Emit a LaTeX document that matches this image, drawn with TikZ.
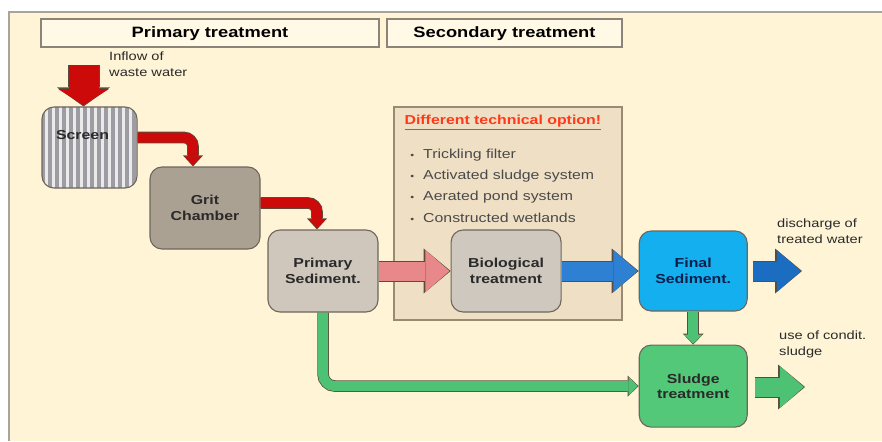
\documentclass[tikz,border=0pt]{standalone}
\usepackage{fontspec}
\setmainfont{Liberation Sans}[FakeStretch=1.22]
\usetikzlibrary{arrows.meta,positioning}

\definecolor{panel}{HTML}{FFF5D6}
\definecolor{panelline}{HTML}{A8A49C}
\definecolor{headfill}{HTML}{FFF9E6}
\definecolor{headedge}{HTML}{8C8478}
\definecolor{boxedge}{HTML}{6E665C}
\definecolor{textgray}{HTML}{2A2A2A}
\definecolor{gritfill}{HTML}{ABA192}
\definecolor{sedfill}{HTML}{CFC7BC}
\definecolor{biofill}{HTML}{CEC8BF}
\definecolor{finalfill}{HTML}{14AFEF}
\definecolor{finaltext}{HTML}{0B1F4A}
\definecolor{sludgefill}{HTML}{52C878}
\definecolor{optfill}{HTML}{EFDFC4}
\definecolor{optedge}{HTML}{9A8A72}
\definecolor{optred}{HTML}{FF3A1A}
\definecolor{pipered}{HTML}{CC0A0A}
\definecolor{pipepink}{HTML}{E8888B}
\definecolor{pipeblue}{HTML}{2D80D2}
\definecolor{pipedarkblue}{HTML}{1B6DC2}
\definecolor{pipegreen}{HTML}{4DC274}
\definecolor{pipeedge}{HTML}{5A4C3E}
\definecolor{stripedark}{HTML}{9C9CA2}
\definecolor{stripelight}{HTML}{EAEAEA}

\newcommand{\bannerfont}{\fontsize{15}{18}\selectfont\bfseries}
\newcommand{\blockfont}{\fontsize{13}{15.5}\selectfont\bfseries}
\newcommand{\remarkfont}{\fontsize{12}{15.5}\selectfont}
\newcommand{\optfont}{\fontsize{13}{16}\selectfont}

\begin{document}
\begin{tikzpicture}[x=1pt,y=-1pt,
  banner/.style={draw=headedge,line width=1.5pt,fill=headfill,minimum height=28pt,text depth=1pt,font=\bannerfont},
  block/.style={draw=boxedge,line width=1.1pt,rounded corners=12pt,minimum width=110pt,minimum height=82pt,
    align=center,font=\blockfont,text=textgray},
  note/.style={align=left,anchor=north west,inner sep=0pt,font=\remarkfont,text=textgray},
  redpipe/.style={draw=pipered,line width=10pt,rounded corners=9pt,shorten >=1pt,
    -{Triangle[length=9pt,width=17pt,line width=0pt]},
    preaction={draw=pipeedge,line width=11.6pt,shorten >=0pt,-{Triangle[length=11pt,width=20pt,line width=0pt]}}},
  inflowpipe/.style={draw=pipered,line width=30pt,shorten >=1.2pt,
    -{Triangle[length=16pt,width=50pt,line width=0pt]},
    preaction={draw=pipeedge,line width=32pt,shorten >=0pt,-{Triangle[length=19pt,width=53pt,line width=0pt]}}},
  bigpipe/.style={draw=#1,line width=19pt,shorten >=1.2pt,
    -{Triangle[length=24pt,width=42pt,line width=0pt]},
    preaction={draw=pipeedge,line width=21pt,shorten >=0pt,-{Triangle[length=27pt,width=45pt,line width=0pt]}}},
  smallpipe/.style={draw=#1,line width=10pt,rounded corners=12pt,shorten >=1pt,
    -{Triangle[length=9pt,width=18pt,line width=0pt]},
    preaction={draw=pipeedge,line width=11.5pt,shorten >=0pt,-{Triangle[length=11pt,width=21pt,line width=0pt]}}}
]

\useasboundingbox (0,0) rectangle (882,441);
\fill[white] (0,0) rectangle (882,441);
\fill[panel] (9,12) rectangle (882,441);
\draw[panelline,line width=1.2pt] (9,441) -- (9,12) -- (882,12);

% headings
\node[banner,minimum width=338pt] (primary)   at (210,33)   {Primary treatment};
\node[banner,minimum width=235pt] (secondary) at (504.5,33) {Secondary treatment};

% the box of options
\node[draw=optedge,fill=optfill,line width=1.2pt,minimum width=228pt,minimum height=213pt] (opt) at (508,213.5) {};
\node[anchor=west,inner sep=0pt,font=\optfont\bfseries,text=optred] (opttitle)
  at ([xshift=11pt,yshift=-16pt]opt.north west) {\underline{Different technical option!}};
\foreach \opt [count=\k] in {Trickling filter,Activated sludge system,Aerated pond system,Constructed wetlands}
  \node[anchor=west,inner sep=0pt,font=\optfont,text=textgray!85] (opt\k)
    at (423,134+21*\k) {\llap{\small\textbullet\hspace{9pt}}\opt};

% process blocks
\node[block,minimum width=95pt,minimum height=81pt,fill=stripedark,
  path picture={\foreach \s in {0,...,13}
    \fill[stripelight,sharp corners] ([xshift=\s*7pt+3pt]path picture bounding box.south west) rectangle ++(3pt,90pt);},
  label={[font=\blockfont,text=textgray,xshift=-7pt,yshift=12pt]center:Screen}] (screen) at (89.5,147.5) {};
\node[block,fill=gritfill]   (grit) at (205,208) {Grit\\Chamber};
\node[block,fill=sedfill]    (psed) at (323,271) {Primary\\Sediment.};
\node[block,fill=biofill]    (bio)   [right=72pt of psed] {Biological\\treatment};
\node[block,fill=finalfill,text=finaltext,minimum width=108pt,minimum height=80pt] (final) [right=77pt of bio] {Final\\Sediment.};
\node[block,fill=sludgefill,minimum width=108pt] (sludge) [below=33pt of final] {Sludge\\treatment};

% free ends
\coordinate (inflow) at (83.5,65);
\coordinate (discharge) at (802,271);
\coordinate (reuse) at (805,387);

% texts
\node[note] (inflowtxt)    at (109,52)  {Inflow of\\waste water};
\node[note] (dischargetxt) at (777,219) {discharge of\\treated water};
\node[note] (reusetxt)     at (779,331) {use of condit.\\sludge};

% flows
\draw[inflowpipe] (inflow) -- (inflow |- screen.north);
\draw[redpipe] ([yshift=10pt]screen.east) -| ([xshift=-12pt]grit.north);
\draw[redpipe] ([yshift=5pt]grit.east) -| ([xshift=-6pt]psed.north);
\draw[bigpipe=pipepink] (psed) -- (bio);
\draw[bigpipe=pipeblue] (bio) -- (final);
\draw[bigpipe=pipedarkblue,shorten <=5pt] (final.east) -- (discharge);
\draw[smallpipe=pipegreen] (final) -- (sludge);
\draw[smallpipe=pipegreen] (psed.south) |- (sludge.west);
\draw[bigpipe=pipegreen,shorten <=7pt] (sludge.east |- reuse) -- (reuse);

\end{tikzpicture}
\end{document}
